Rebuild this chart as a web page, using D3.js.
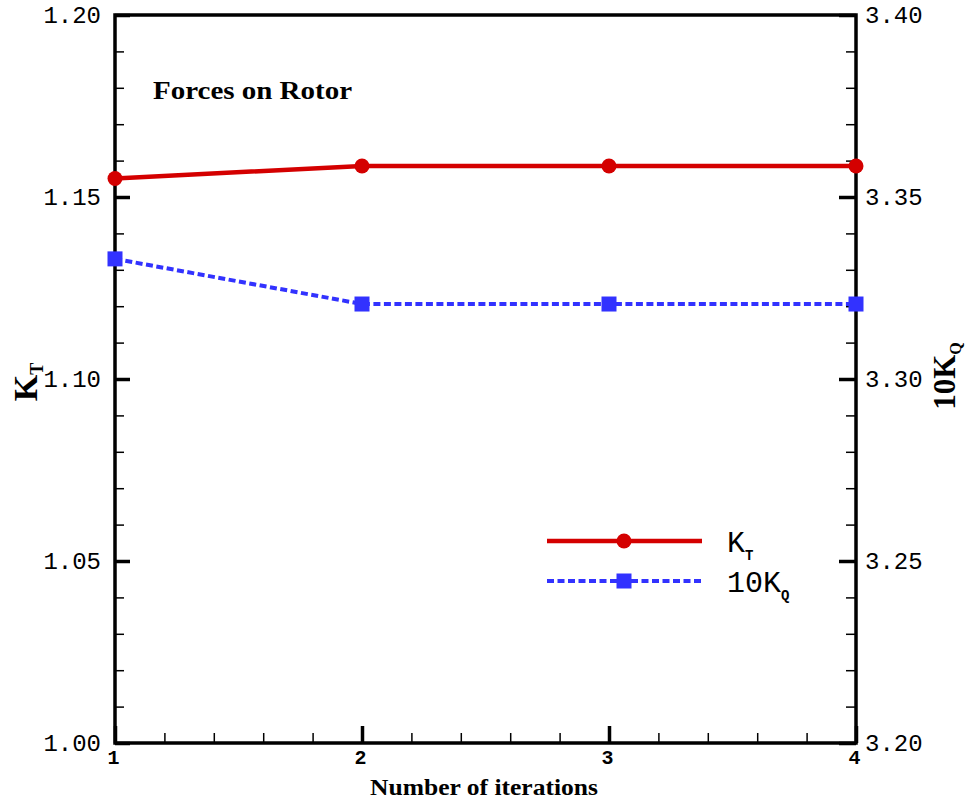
<!DOCTYPE html>
<html>
<head>
<meta charset="utf-8">
<script src="https://cdn.jsdelivr.net/npm/d3@7"></script>
<style>
  html, body { margin: 0; padding: 0; background: #fff; }
  svg { display: block; }
</style>
</head>
<body>
<svg id="chart" width="975" height="803"></svg>
<script>
// Convergence of rotor forces with the number of coupling iterations
const iterations = [1, 2, 3, 4];
const kt = [1.1551, 1.1585, 1.1585, 1.1585];       // thrust coefficient K_T
const kq10 = [3.3330, 3.3206, 3.3206, 3.3206];     // torque coefficient 10K_Q

const xTicks = [1, 2, 3, 4];
const xMinor = [1.2, 1.4, 1.6, 1.8, 2.2, 2.4, 2.6, 2.8, 3.2, 3.4, 3.6, 3.8];
const ktTicks = [1.00, 1.05, 1.10, 1.15, 1.20];
const kqTicks = [3.20, 3.25, 3.30, 3.35, 3.40];

const red = "#d40000";
const blue = "#3232ff";

const svg = d3.select("#chart");
const plotL = 115, plotR = 856, plotT = 15, plotB = 743;

const x = d3.scaleLinear().domain([1, 4]).range([plotL, plotR]);
const yL = d3.scaleLinear().domain([1.00, 1.20]).range([plotB, plotT]);
const yR = d3.scaleLinear().domain([3.20, 3.40]).range([plotB, plotT]);

const minorOf = (lo, hi, step) => d3.range(Math.round((hi - lo) / step) + 1)
  .map(i => +(lo + i * step).toFixed(4));
const ktMinor = minorOf(1.00, 1.20, 0.01).filter(v => !ktTicks.some(t => Math.abs(t - v) < 1e-6));
const kqMinor = minorOf(3.20, 3.40, 0.01).filter(v => !kqTicks.some(t => Math.abs(t - v) < 1e-6));

const monoFont = "'Liberation Mono', 'DejaVu Sans Mono', monospace";
const serifFont = "'Liberation Serif', 'DejaVu Serif', serif";

function styleAxis(g, width, fontSize) {
  g.select(".domain").remove();
  g.selectAll(".tick line").attr("stroke", "#000").attr("stroke-width", width);
  g.selectAll(".tick text")
    .attr("fill", "#000")
    .style("font-family", monoFont)
    .style("font-size", fontSize + "px");
}

// Left axis (K_T)
svg.append("g").attr("transform", `translate(${plotL},0)`)
  .call(d3.axisLeft(yL).tickValues(ktMinor).tickSize(-9).tickFormat(""))
  .call(g => styleAxis(g, 1.5, 24));
svg.append("g").attr("transform", `translate(${plotL},0)`)
  .call(d3.axisLeft(yL).tickValues(ktTicks).tickSize(-15).tickPadding(14).tickFormat(d3.format(".2f")))
  .call(g => styleAxis(g, 3.5, 24));

// Right axis (10K_Q)
svg.append("g").attr("transform", `translate(${plotR},0)`)
  .call(d3.axisRight(yR).tickValues(kqMinor).tickSize(-10).tickFormat(""))
  .call(g => styleAxis(g, 1.5, 24));
svg.append("g").attr("transform", `translate(${plotR},0)`)
  .call(d3.axisRight(yR).tickValues(kqTicks).tickSize(-17).tickPadding(9).tickFormat(d3.format(".2f")))
  .call(g => styleAxis(g, 3.5, 24));

// Bottom axis (iterations)
svg.append("g").attr("transform", `translate(0,${plotB})`)
  .call(d3.axisBottom(x).tickValues(xMinor).tickSize(-10).tickFormat(""))
  .call(g => styleAxis(g, 1.5, 20));
svg.append("g").attr("transform", `translate(0,${plotB})`)
  .call(d3.axisBottom(x).tickValues(xTicks).tickSize(-17).tickPadding(7).tickFormat(d3.format("d")))
  .call(g => styleAxis(g, 3.5, 20))
  .call(g => g.selectAll(".tick text").attr("dx", -2).style("font-weight", "bold"));

// Plot frame
svg.append("rect")
  .attr("x", plotL).attr("y", plotT)
  .attr("width", plotR - plotL).attr("height", plotB - plotT)
  .attr("fill", "none").attr("stroke", "#000").attr("stroke-width", 3.5);

// Series
const ktData = iterations.map((it, i) => ({ it, v: kt[i] }));
const kqData = iterations.map((it, i) => ({ it, v: kq10[i] }));

svg.append("path").datum(ktData)
  .attr("fill", "none").attr("stroke", red).attr("stroke-width", 4.5)
  .attr("d", d3.line().x(d => x(d.it)).y(d => yL(d.v)));
svg.append("path").datum(kqData)
  .attr("fill", "none").attr("stroke", blue).attr("stroke-width", 4)
  .attr("stroke-dasharray", "7,3.5")
  .attr("d", d3.line().x(d => x(d.it)).y(d => yR(d.v)));

svg.append("g").selectAll("circle").data(ktData).join("circle")
  .attr("cx", d => x(d.it)).attr("cy", d => yL(d.v)).attr("r", 7.5).attr("fill", red);
const sq = 15;
svg.append("g").selectAll("rect").data(kqData).join("rect")
  .attr("x", d => x(d.it) - sq / 2).attr("y", d => yR(d.v) - sq / 2)
  .attr("width", sq).attr("height", sq).attr("fill", blue);

// Annotation
svg.append("text").attr("x", 153).attr("y", 99)
  .style("font-family", serifFont).style("font-weight", "bold").style("font-size", "26px")
  .attr("textLength", 199).attr("lengthAdjust", "spacingAndGlyphs")
  .text("Forces on Rotor");

// Axis titles
svg.append("text").attr("x", 484).attr("y", 795).attr("text-anchor", "middle")
  .style("font-family", serifFont).style("font-weight", "bold").style("font-size", "23px")
  .attr("textLength", 228).attr("lengthAdjust", "spacingAndGlyphs")
  .text("Number of iterations");

const yTitle = svg.append("text")
  .attr("transform", "translate(37,382) rotate(-90)")
  .attr("text-anchor", "middle")
  .style("font-family", serifFont).style("font-weight", "bold").style("font-size", "34px");
yTitle.append("tspan").text("K");
yTitle.append("tspan").attr("dy", 6).style("font-size", "18px").text("T");

const y2Title = svg.append("text")
  .attr("transform", "translate(955,376) rotate(-90)")
  .attr("text-anchor", "middle")
  .style("font-family", serifFont).style("font-weight", "bold").style("font-size", "31px");
y2Title.append("tspan").text("10K");
y2Title.append("tspan").attr("dy", 6).style("font-size", "16px").text("Q");

// Legend
const legend = svg.append("g");
const lx0 = 547, lx1 = 702, lxm = 624;
const entries = [
  { y: 541, color: red, dash: null, width: 4.5, label: "K", sub: "T", shape: "circle" },
  { y: 581, color: blue, dash: "7,3.5", width: 4, label: "10K", sub: "Q", shape: "square" }
];
entries.forEach(e => {
  legend.append("line").attr("x1", lx0).attr("x2", lx1).attr("y1", e.y).attr("y2", e.y)
    .attr("stroke", e.color).attr("stroke-width", e.width)
    .attr("stroke-dasharray", e.dash);
  if (e.shape === "circle") {
    legend.append("circle").attr("cx", lxm).attr("cy", e.y).attr("r", 7.5).attr("fill", e.color);
  } else {
    legend.append("rect").attr("x", lxm - sq / 2).attr("y", e.y - sq / 2)
      .attr("width", sq).attr("height", sq).attr("fill", e.color);
  }
  const t = legend.append("text").attr("x", 727).attr("y", e.y + 11)
    .style("font-family", monoFont).style("font-size", "30px");
  t.append("tspan").text(e.label);
  t.append("tspan").attr("dy", 8).style("font-size", "14px").style("font-weight", "bold").text(e.sub);
});
</script>
</body>
</html>
